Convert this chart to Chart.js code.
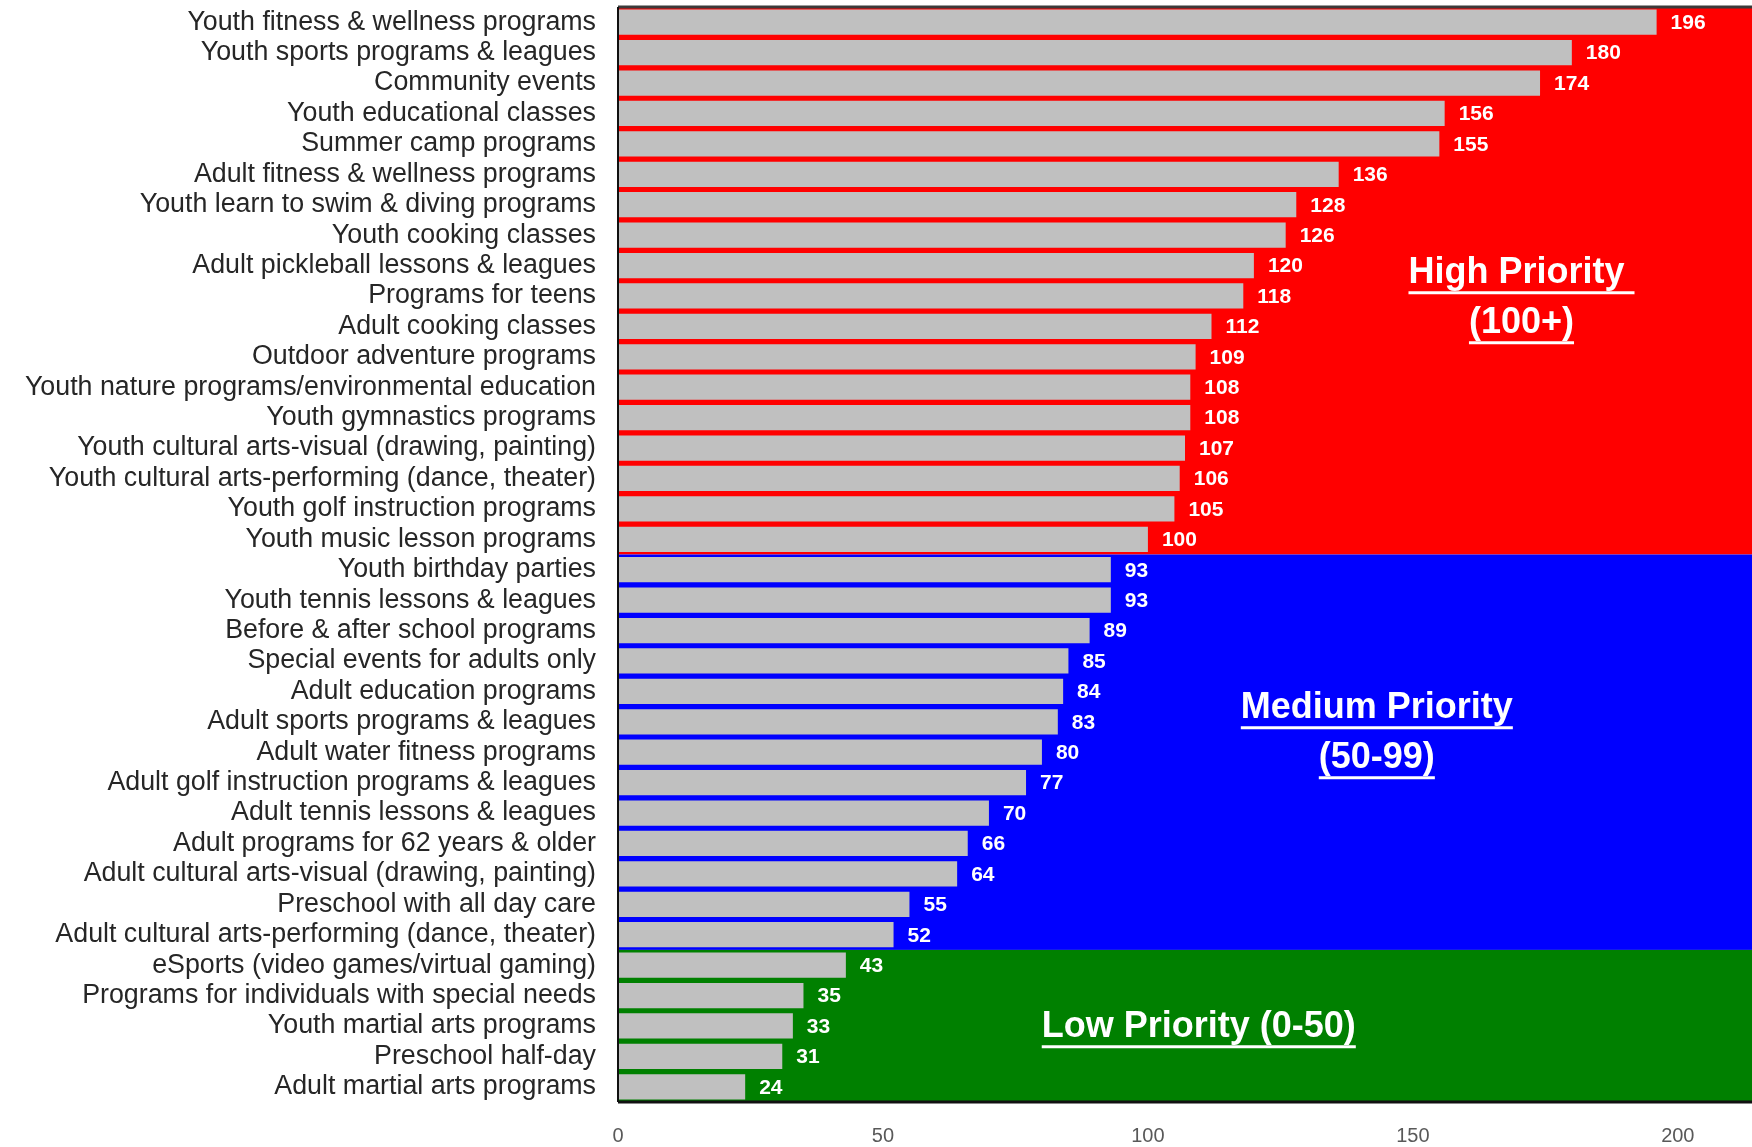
<!DOCTYPE html>
<html>
<head>
<meta charset="utf-8">
<script src="https://cdn.jsdelivr.net/npm/chart.js@4.4.1/dist/chart.umd.min.js"></script>
<style>
body{margin:0;background:#fff;}
#wrap{width:1752px;height:1147px;}
</style>
</head>
<body>
<div id="wrap"><canvas id="myChart"></canvas></div>
<script>
const programs = [
    'Youth fitness & wellness programs',
    'Youth sports programs & leagues',
    'Community events',
    'Youth educational classes',
    'Summer camp programs',
    'Adult fitness & wellness programs',
    'Youth learn to swim & diving programs',
    'Youth cooking classes',
    'Adult pickleball lessons & leagues',
    'Programs for teens',
    'Adult cooking classes',
    'Outdoor adventure programs',
    'Youth nature programs/environmental education',
    'Youth gymnastics programs',
    'Youth cultural arts-visual (drawing, painting)',
    'Youth cultural arts-performing (dance, theater)',
    'Youth golf instruction programs',
    'Youth music lesson programs',
    'Youth birthday parties',
    'Youth tennis lessons & leagues',
    'Before & after school programs',
    'Special events for adults only',
    'Adult education programs',
    'Adult sports programs & leagues',
    'Adult water fitness programs',
    'Adult golf instruction programs & leagues',
    'Adult tennis lessons & leagues',
    'Adult programs for 62 years & older',
    'Adult cultural arts-visual (drawing, painting)',
    'Preschool with all day care',
    'Adult cultural arts-performing (dance, theater)',
    'eSports (video games/virtual gaming)',
    'Programs for individuals with special needs',
    'Youth martial arts programs',
    'Preschool half-day',
    'Adult martial arts programs'
];
const programScores = [196, 180, 174, 156, 155, 136, 128, 126, 120, 118, 112, 109, 108, 108, 107, 106, 105, 100,
    93, 93, 89, 85, 84, 83, 80, 77, 70, 66, 64, 55, 52, 43, 35, 33, 31, 24];
const priorityCuts = [100, 50, 0];
const priorityNames = [['High Priority ', '(100+)'], ['Medium Priority', '(50-99)'], ['Low Priority (0-50)']];
const xTicks = [0, 50, 100, 150, 200];
const xMax = 214;

const zoneColors = ['#ff0000', '#0000ff', '#008000'];
const fontFam = '"Liberation Sans", Arial, sans-serif';

// which priority band a row belongs to
function bandOf(v) {
    for (let g = 0; g < priorityCuts.length; g++) {
        if (v >= priorityCuts[g]) return g;
    }
    return priorityCuts.length - 1;
}

// drop the half-label padding chart.js adds around axes
function noEdgePad(axis) {
    axis.paddingTop = 0;
    axis.paddingBottom = 0;
    axis.paddingLeft = 0;
    axis.paddingRight = 0;
}

const zonesPlugin = {
    id: 'zones',
    beforeDraw(chart) {
        const ctx = chart.ctx;
        const area = chart.chartArea;
        const y = chart.scales.y;
        const half = (y.getPixelForValue(1) - y.getPixelForValue(0)) / 2;
        ctx.save();
        ctx.fillStyle = '#fff';
        ctx.fillRect(0, 0, chart.width, chart.height);
        priorityCuts.forEach((cut, g) => {
            const rows = programScores.map((v, i) => bandOf(v) === g ? i : -1).filter(i => i >= 0);
            if (!rows.length) return;
            const top = y.getPixelForValue(rows[0]) - half;
            const bot = y.getPixelForValue(rows[rows.length - 1]) + half;
            ctx.fillStyle = zoneColors[g];
            ctx.fillRect(area.left, top, area.right - area.left, bot - top);
        });
        ctx.restore();
    },
    afterDatasetsDraw(chart) {
        const ctx = chart.ctx;
        ctx.save();
        ctx.fillStyle = '#fff';
        ctx.font = 'bold 21px ' + fontFam;
        ctx.textBaseline = 'middle';
        ctx.textAlign = 'left';
        chart.getDatasetMeta(0).data.forEach((bar, i) => {
            ctx.fillText(programScores[i], bar.x + 14, bar.y + 1);
        });
        ctx.restore();
    },
    afterDraw(chart, args, opts) {
        const ctx = chart.ctx;
        const area = chart.chartArea;
        const x = chart.scales.x;
        const y = chart.scales.y;
        ctx.save();
        // plot frame
        ctx.strokeStyle = '#3a3a3a';
        ctx.lineWidth = 3;
        ctx.beginPath();
        ctx.moveTo(area.left, area.top);
        ctx.lineTo(area.right, area.top);
        ctx.stroke();
        ctx.strokeStyle = '#111';
        ctx.beginPath();
        ctx.moveTo(area.left, area.bottom);
        ctx.lineTo(area.right, area.bottom);
        ctx.stroke();
        ctx.lineWidth = 2;
        ctx.beginPath();
        ctx.moveTo(area.left, area.top);
        ctx.lineTo(area.left, area.bottom);
        ctx.stroke();

        // priority captions
        ctx.fillStyle = '#fff';
        ctx.strokeStyle = '#fff';
        ctx.font = 'bold 36px ' + fontFam;
        ctx.textAlign = 'center';
        ctx.textBaseline = 'middle';
        ctx.lineWidth = 3;
        opts.notes.forEach((n, g) => {
            const cx = x.getPixelForValue(n.x);
            const cy = y.getPixelForValue(n.y);
            priorityNames[g].forEach((line, k) => {
                const ly = cy + k * opts.lineGap;
                ctx.fillText(line, cx, ly);
                const w = ctx.measureText(line).width;
                ctx.beginPath();
                ctx.moveTo(cx - w / 2, ly + 20);
                ctx.lineTo(cx + w / 2, ly + 20);
                ctx.stroke();
            });
        });
        ctx.restore();
    }
};

const data = {
    labels: programs,
    datasets: [{
        data: programScores,
        backgroundColor: '#c0c0c0',
        borderWidth: 0,
        barPercentage: 0.83,
        categoryPercentage: 1
    }]
};

const config = {
    type: 'bar',
    data: data,
    plugins: [zonesPlugin],
    options: {
        indexAxis: 'y',
        responsive: true,
        maintainAspectRatio: false,
        animation: false,
        layout: {padding: {top: 7, left: 0, right: 0, bottom: 0}},
        plugins: {
            legend: {display: false},
            tooltip: {enabled: false},
            zones: {
                lineGap: 50,
                notes: [
                    {x: 170.5, y: 8.24},
                    {x: 143.2, y: 22.54},
                    {x: 109.6, y: 33.03}
                ]
            }
        },
        scales: {
            x: {
                min: 0,
                max: xMax,
                afterBuildTicks: axis => { axis.ticks = xTicks.map(v => ({value: v})); },
                afterFit: axis => { axis.height = 45; noEdgePad(axis); },
                grid: {display: false, drawTicks: false},
                border: {display: false},
                ticks: {
                    padding: 22,
                    color: '#595959',
                    font: {family: fontFam, size: 20}
                }
            },
            y: {
                afterFit: axis => { axis.width = 618; noEdgePad(axis); },
                grid: {display: false, drawTicks: false},
                border: {display: false},
                ticks: {
                    padding: 22,
                    autoSkip: false,
                    color: '#262626',
                    font: {family: fontFam, size: 26.8}
                }
            }
        }
    }
};

const myChart = new Chart(document.getElementById('myChart').getContext('2d'), config);
</script>
</body>
</html>
